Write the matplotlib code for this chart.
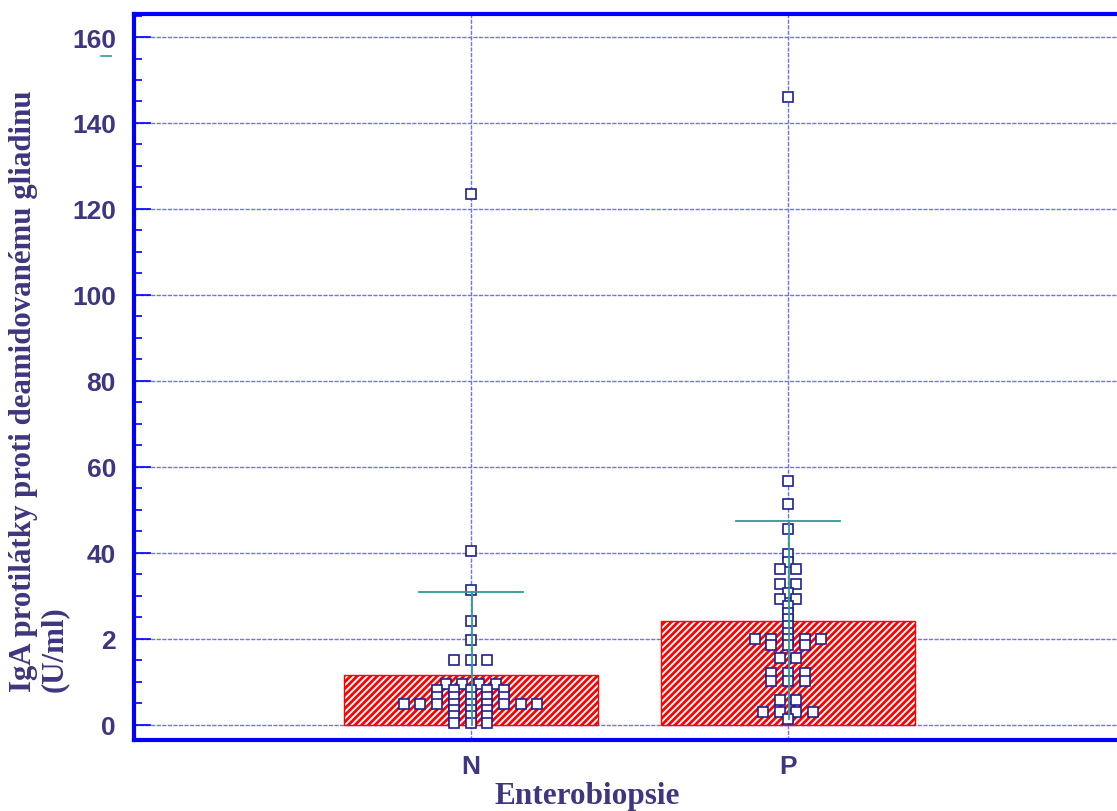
import matplotlib
matplotlib.use("Agg")
import matplotlib.pyplot as plt
import numpy as np
from matplotlib.lines import Line2D
from matplotlib.ticker import MultipleLocator

# data
groups = ["N", "P"]
bar_heights = [11.6, 24.2]
upper_err = [30.9, 47.3]
lower_err = [0.0, 1.2]

vals_N = [123.4, 40.3, 31.4, 24.2, 19.6,
          15.1, 15.1, 15.1,
          9.5, 9.5, 9.5, 9.5,
          8.0, 8.0, 8.0, 8.0, 8.0,
          6.5, 6.5, 6.5, 6.5, 6.5,
          4.7, 4.7, 4.7, 4.7, 4.7, 4.7, 4.7, 4.7, 4.7,
          3.5, 3.5, 3.5,
          1.9, 1.9, 1.9,
          0.4, 0.4, 0.4]
vals_P = [146.0, 56.7, 51.4, 45.6, 39.6, 37.8,
          36.1, 36.1, 32.8, 32.8, 30.6, 29.2, 29.2,
          27.5, 26.0, 24.5, 22.9, 21.4,
          20.0, 20.0, 20.0, 20.0, 20.0,
          18.4, 18.4, 18.4,
          15.5, 15.5,
          12.0, 12.0, 12.0,
          10.1, 10.1, 10.1,
          5.8, 5.8,
          2.9, 2.9, 2.9, 2.9,
          1.2]

ytick_vals = [0, 20, 40, 60, 80, 100, 120, 140, 160]
ytick_labels = ["0", "2", "40", "60", "80", "100", "120", "140", "160"]

txt_col = "#3d3680"
blue = "#0000ff"
teal = "#2f9a9a"
grid_col = "#7070ff"


def row_offsets(vals, step):
    # equal values share a row, centred on the category
    vals = np.asarray(vals)
    offs = np.zeros(len(vals))
    for v in np.unique(vals):
        idx = np.where(vals == v)[0]
        offs[idx] = (np.arange(len(idx)) - (len(idx) - 1) / 2) * step
    return offs


plt.rcParams["hatch.linewidth"] = 2.0
fig = plt.figure(figsize=(11.17, 8.12), dpi=100)
ax = fig.add_axes([0.12, 0.0874, 0.88, 0.8938])

x = np.arange(len(groups))
ax.bar(x, bar_heights, width=0.8, color="white", edgecolor="#ff0000",
       hatch="/////", linewidth=1, zorder=2)

step = 0.0526
for xi, vals in zip(x, [vals_N, vals_P]):
    ax.plot(xi + row_offsets(vals, step), vals, "s", ms=7.4,
            mfc="white", mec="#1f1f8f", mew=1.2, zorder=4)

for xi, lo, hi in zip(x, lower_err, upper_err):
    ax.plot([xi + 0.003, xi + 0.003], [lo, hi], color=teal, lw=1.3, zorder=5)
    ax.plot([xi - 0.164, xi + 0.164], [hi, hi], color=teal, lw=1.3, zorder=5)

ax.set_xlim(-1.06, 2.036)
ax.set_ylim(-3.6, 165.3)
ax.set_xticks(x)
ax.set_xticklabels(groups)
ax.set_yticks(ytick_vals)
ax.set_yticklabels(ytick_labels)
ax.yaxis.set_minor_locator(MultipleLocator(5))

ax.grid(True, which="major", color=grid_col, lw=1.0, ls=(0, (3, 1)), zorder=1)

for s in ["left", "bottom", "top"]:
    ax.spines[s].set_color(blue)
    ax.spines[s].set_linewidth(3)
ax.spines["right"].set_visible(False)

ax.tick_params(axis="y", which="major", direction="in", length=12, width=1.2,
               color=blue, pad=13)
ax.tick_params(axis="y", which="minor", direction="in", length=6, width=1.2,
               color=blue)
ax.tick_params(axis="x", length=0, pad=10)
for lab in ax.get_xticklabels() + ax.get_yticklabels():
    lab.set_family("Liberation Sans")
    lab.set_fontweight("bold")
    lab.set_fontsize(19)
    lab.set_color(txt_col)

fig.text(587 / 1117, 1 - 797 / 812, "Enterobiopsie", ha="center", va="center",
         family="Liberation Serif", fontweight="bold", fontsize=22.5, color=txt_col)
fig.text(39 / 1117, 1 - 692 / 812,
         "IgA protilátky proti deamidovanému gliadinu\n(U/ml)",
         rotation=90, ha="center", va="bottom", multialignment="left",
         family="Liberation Serif", fontweight="bold", fontsize=22.2,
         color=txt_col, linespacing=1.1)

# small teal mark under the 160 label
fig.add_artist(Line2D([101 / 1117, 111 / 1117], [1 - 57 / 812, 1 - 57 / 812],
                      color=teal, lw=1.2))

fig.savefig("out.png", dpi=100)
plt.close()
